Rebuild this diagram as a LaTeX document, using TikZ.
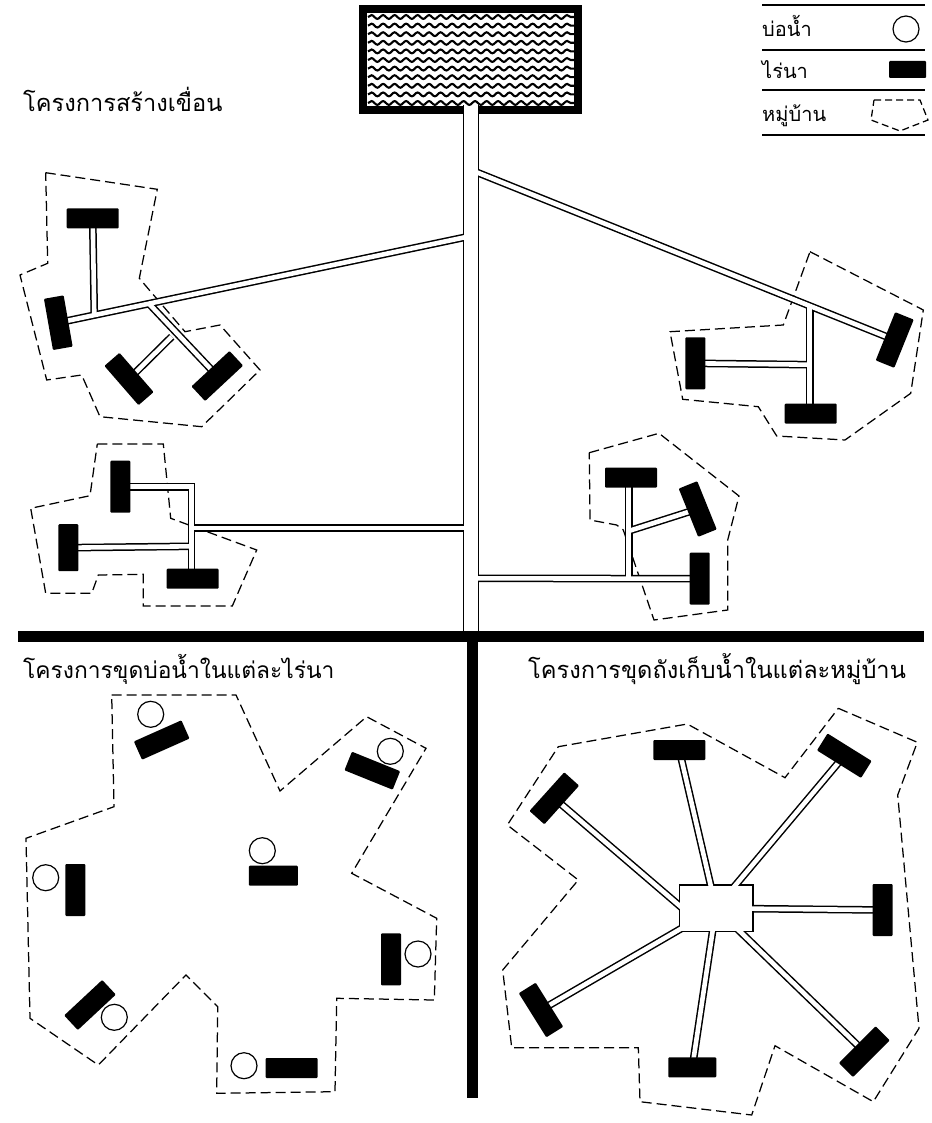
\documentclass[tikz,border=0pt]{standalone}
\usepackage{fontspec}
\newfontfamily\thaifont[Script=Thai]{Loma}
\usetikzlibrary{backgrounds}
\usetikzlibrary{decorations.pathmorphing}

\begin{document}
\begin{tikzpicture}[x=1pt,y=-1pt,
    field/.style={fill=black, rounded corners=1pt, inner sep=0, minimum width=52, minimum height=20},
    well/.style={circle, draw, line width=1.2, inner sep=0, minimum size=26},
    village/.style={dashed, dash pattern=on 10pt off 5pt, line width=1.25},
    rule/.style={line width=1.2},
    thick_bar/.style={line width=11},
    wave/.style={line width=2.1, decorate, decoration={snake, segment length=11.5, amplitude=1.9}},
    thai/.style={anchor=base west, inner sep=0, font=\thaifont\fontsize{23.6}{28}\selectfont},
    legend/.style={thai, font=\thaifont\fontsize{20}{24}\selectfont}
  ]
  \useasboundingbox (0,0) rectangle (931,1123);

  \node[thai] (title_dam) at (23,112) {โครงการสร้างเขื่อน};
  \node[thai, font=\thaifont\fontsize{22.8}{28}\selectfont] (title_pond) at (23,678) {โครงการขุดบ่อน้ำในแต่ละไร่นา};
  \node[thai] (title_tank) at (528,678) {โครงการขุดถังเก็บน้ำในแต่ละหมู่บ้าน};

  \coordinate (l0w) at (762,5);   \coordinate (l0e) at (925,5);
  \coordinate (l1w) at (762,50);  \coordinate (l1e) at (925,50);
  \coordinate (l2w) at (762,90);  \coordinate (l2e) at (925,90);
  \coordinate (l3w) at (762,135); \coordinate (l3e) at (925,135);
  \draw[rule] (l0w) -- (l0e);
  \draw[rule] (l1w) -- (l1e);
  \draw[rule] (l2w) -- (l2e);
  \draw[rule] (l3w) -- (l3e);
  \node[legend] (leg_pond) at (762,37) {บ่อน้ำ};
  \node[legend] (leg_field) at (762,79) {ไร่นา};
  \node[legend] (leg_vill) at (762,122) {หมู่บ้าน};
  \node[well] (leg_well) at (906,29) {};
  \node[field, minimum width=37, minimum height=17] (leg_rect) at (907.5,69.5) {};
  \draw[village, dash pattern=on 7pt off 4pt] (874,100) -- (920,100) -- (928,120) -- (900,131) -- (871,120) -- cycle;

  \node[field] (a1) at (92.7,218.3) {};
  \node[field, rotate=100] (a2) at (58.3,322.7) {};
  \node[field, rotate=-49] (a3) at (129,379) {};
  \node[field, rotate=43] (a4) at (217.3,376) {};

  \node[field, rotate=90] (b1) at (120.3,486.7) {};
  \node[field, rotate=90, minimum width=47] (b2) at (68.3,547.7) {};
  \node[field] (b3) at (192.7,578.7) {};

  \node[field, rotate=68] (c1) at (894.7,340) {};
  \node[field, rotate=90] (c2) at (695.3,363.3) {};
  \node[field] (c3) at (810.7,413.7) {};

  \node[field] (d1) at (631,477.7) {};
  \node[field, rotate=112] (d2) at (697.7,509) {};
  \node[field, rotate=90] (d3) at (699.7,578.7) {};

  \node[field, rotate=24] (g1) at (161.7,740) {};
  \node[field, rotate=-22] (g2) at (372.3,770.7) {};
  \node[field, minimum width=49] (g3) at (273.3,875.7) {};
  \node[field, rotate=90] (g4) at (75.3,890) {};
  \node[field, rotate=90] (g5) at (391,959.3) {};
  \node[field, rotate=43] (g6) at (90,1005) {};
  \node[field] (g7) at (291.7,1068) {};
  \node[well] (w1) at (150.7,714.3) {};
  \node[well] (w2) at (390.3,751.3) {};
  \node[well] (w3) at (262.3,850.7) {};
  \node[well] (w4) at (45.7,877.7) {};
  \node[well] (w5) at (418,954) {};
  \node[well] (w6) at (114.3,1017.3) {};
  \node[well] (w7) at (244,1065.7) {};

  \node[field] (h1) at (679.3,750) {};
  \node[field, rotate=-32] (h2) at (844.3,755.7) {};
  \node[field, rotate=90] (h3) at (882.7,910) {};
  \node[field, rotate=45] (h4) at (864.3,1051.7) {};
  \node[field, minimum width=48] (h5) at (692.3,1067.3) {};
  \node[field, rotate=-58] (h6) at (541,1010) {};
  \node[field, rotate=48] (h7) at (554.3,798.3) {};

  \coordinate (stem_top) at (471,105);
  \coordinate (stem_bot) at (471,634);
  \coordinate (stem_a) at (471,236);
  \coordinate (stem_b) at (471,528);
  \coordinate (stem_c) at (471,170);
  \coordinate (stem_d) at (471,578.3);
  \coordinate (a_j1) at (94.3,315);
  \coordinate (a_j2) at (149.3,304);
  \coordinate (a_j3) at (171.7,336.7);
  \coordinate (b_top) at (191.3,486.7);
  \coordinate (b_bot) at (191.3,578);
  \coordinate (b_j) at (191.3,546.3);
  \coordinate (c_j) at (809.7,305.5);
  \coordinate (c_k) at (809.7,364.7);
  \coordinate (d_j) at (628.7,578.3);
  \coordinate (d_k) at (628.7,531);
  \coordinate (hub) at (716,908.3);
  \coordinate (hub_w) at (688,913);

  \begin{pgfonlayer}{background}
    \node[draw, line width=8, inner sep=0, minimum width=215, minimum height=101] (res) at (470.5,59.5) {};
    \draw[village] (45.7,172.7) -- (157.3,189.3) -- (139.3,278.3) -- (185,331.7) -- (220,325) -- (260,370) -- (201.7,426.7) -- (100,416.7) -- (81.7,375) -- (46.7,380) -- (20,275) -- (47.7,263.3) -- cycle;
    \draw[village] (97.3,444) -- (163.3,444) -- (170.7,518.3) -- (256.7,550) -- (232.3,606) -- (143.3,606) -- (143.3,574.3) -- (98.3,575) -- (91.7,593.3) -- (45.7,593.3) -- (30.7,508.3) -- (90,495.7) -- cycle;
    \draw[village] (810,251.7) -- (923.3,310) -- (910.7,393.3) -- (845,440) -- (776.7,436) -- (758.3,406.7) -- (682.7,399.3) -- (670,331.7) -- (783.3,325) -- cycle;
    \draw[village] (589.3,452.7) -- (659,433.3) -- (739,496) -- (727.7,540) -- (727.7,610) -- (654,620) -- (623.3,530) -- (616.7,525) -- (590,520) -- cycle;
    \draw[village] (111.7,695) -- (236,695) -- (280,791) -- (366.7,716.7) -- (426,748.3) -- (351.7,873.3) -- (436.7,918.3) -- (434.3,1000) -- (336.7,998.3) -- (335,1091.7) -- (216.7,1093.3) -- (217.7,1006.7) -- (186,975) -- (98.3,1065) -- (30,1018.3) -- (26,838.3) -- (114,806.7) -- cycle;
    \draw[village] (838.3,708.3) -- (917.3,742.3) -- (897.7,795) -- (919,1028.3) -- (873.3,1101.7) -- (775,1045.7) -- (751.7,1115) -- (640,1101.7) -- (638.3,1047.7) -- (511.7,1047.7) -- (502.7,970) -- (578.3,880) -- (507.3,825) -- (558.3,746.7) -- (687.3,724) -- (785,777.7) -- cycle;

    \foreach \col/\canalw/\stemw/\hubw/\hubh in {black/7.6/16.8/75/48, white/4.6/13.8/72/45} {
      \draw[\col, line width=\stemw] (stem_top) -- (stem_bot);
      \draw[\col, line width=\canalw] (stem_a) -- (a2.center);
      \draw[\col, line width=\canalw] (a1.center) -- (a_j1);
      \draw[\col, line width=\canalw] (a_j2) -- (a4.center);
      \draw[\col, line width=\canalw] (a_j3) -- (a3.center);
      \draw[\col, line width=\canalw] (stem_b) -- (b_top |- stem_b);
      \draw[\col, line width=\canalw, line join=miter] (b1.center) -- (b_top) -- (b_bot);
      \draw[\col, line width=\canalw] (b2.center) -- (b_j);
      \draw[\col, line width=\canalw] (stem_c) -- (c1.center);
      \draw[\col, line width=\canalw] (c_j) -- (c_j |- c3.center);
      \draw[\col, line width=\canalw] (c2.center) -- (c_k);
      \draw[\col, line width=\canalw] (stem_d) -- (d3.center);
      \draw[\col, line width=\canalw] (d_j) -- (d_j |- d1.center);
      \draw[\col, line width=\canalw] (d_k) -- (d2.center);
      \draw[\col, line width=\canalw] (hub) -- (h1.center);
      \draw[\col, line width=\canalw] (hub) -- (h2.center);
      \draw[\col, line width=\canalw] (hub) -- (h3.center);
      \draw[\col, line width=\canalw] (hub) -- (h4.center);
      \draw[\col, line width=\canalw] (hub) -- (h5.center);
      \draw[\col, line width=\canalw] (hub) -- (h6.center);
      \draw[\col, line width=\canalw] (hub_w) -- (h7.center);
      \node[fill=\col, inner sep=0, minimum width=\hubw, minimum height=\hubh] (hub_\col) at (hub) {};
    }
  \end{pgfonlayer}

  \foreach \y in {17,25.6,...,104} {
    \draw[wave] (368,\y) -- (575,\y);
  }

  \coordinate (bar_w) at (18,636);
  \coordinate (bar_e) at (924,636);
  \coordinate (div_n) at (472,636);
  \coordinate (div_s) at (472,1098);
  \draw[thick_bar] (bar_w) -- (bar_e);
  \draw[thick_bar] (div_n) -- (div_s);
\end{tikzpicture}
\end{document}
